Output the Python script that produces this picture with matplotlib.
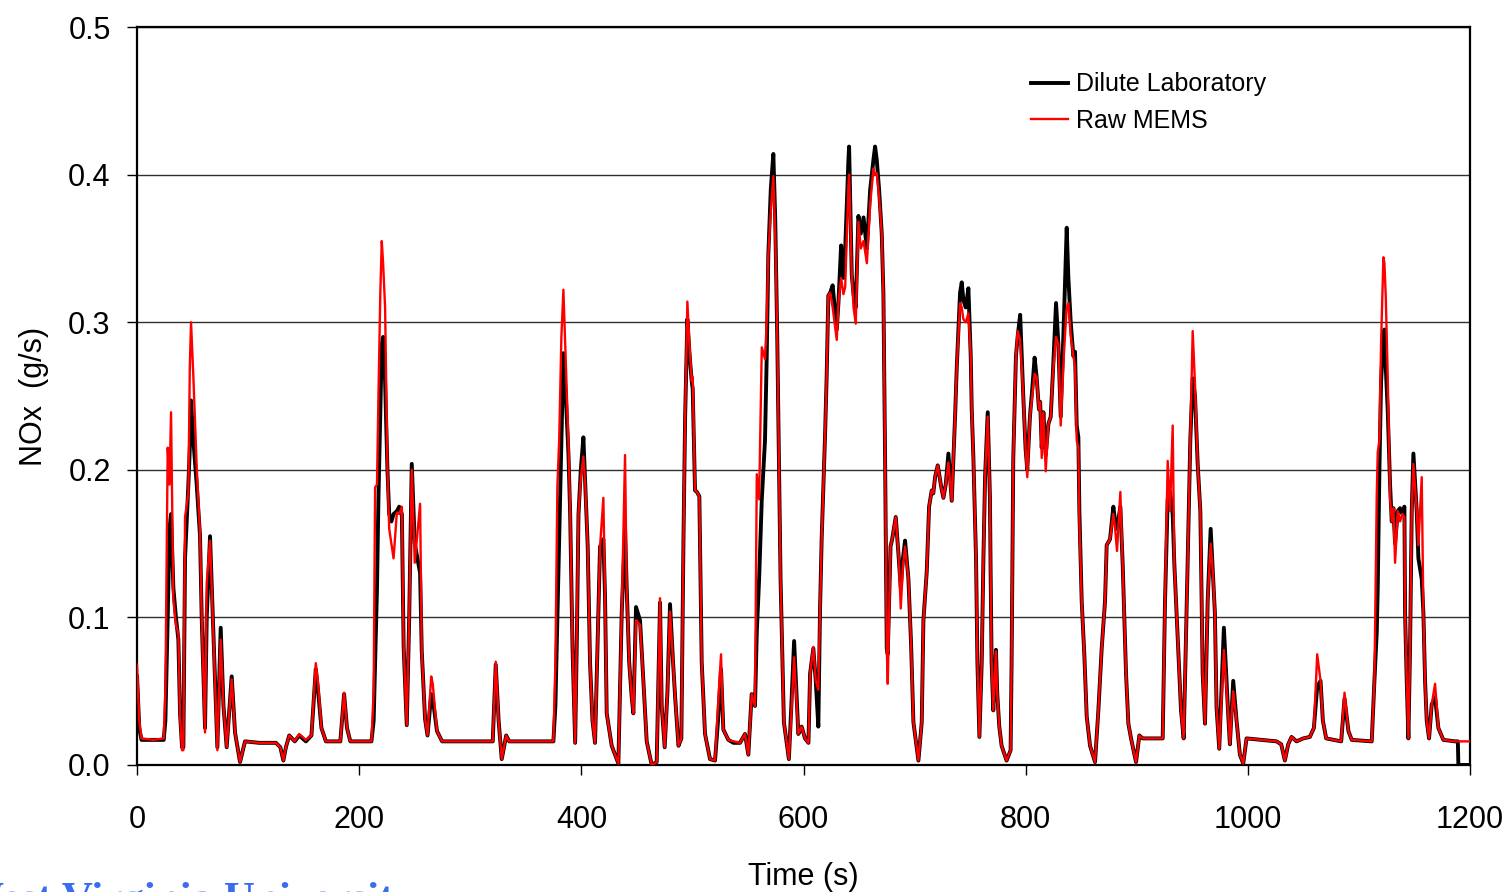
#! /usr/bin/env python3
# NOx mass rate, dilute laboratory vs raw MEMS
import matplotlib
matplotlib.use("Agg")
import matplotlib.pyplot as plt

plt.rcParams['font.family'] = ['Liberation Sans', 'DejaVu Sans']

# time (s) and values (g/s)
time = [
    0, 2, 4, 15, 24, 25.5, 27.6, 29.2, 30.6, 32.7, 35, 37.2, 38.7, 40.5, 41.7,
    43.2, 46.2, 47.5, 48.6, 50.7, 53.7, 56.7, 58.2, 61.2, 62.7, 65.7, 68.7,
    72.3, 75.3, 77.8, 80.7, 85.2, 88.2, 92.7, 97.2,
    110, 125, 129, 131.7, 134, 137, 142, 146, 152, 157, 160.9, 163, 166, 170,
    183, 186.4, 189, 192, 211, 213, 214.3, 216, 217.3, 219, 220.3, 221.5,
    223.3, 225.4, 227, 229, 230.9, 233.9, 236, 238.4, 240, 242.8, 245, 247.3,
    250, 254.8, 256.3, 259.3, 261.5, 264.8, 266.2, 270, 274.6,
    320.2, 322.9, 325.5, 328.3, 332.3, 335, 374.8, 376.6, 378.4, 380, 382,
    383.8, 386, 388.4, 389.9, 392, 394.4, 396, 397.4, 399.5, 401.8, 403.5,
    405.7, 407.8, 410, 412.3, 414.5, 416.8, 419.8, 421.3, 422.8, 427.3, 433.3,
    436.3, 439.3, 440.8, 443, 445.3, 446.8, 449.2, 452.8, 455.8, 458.8, 463.3,
    467.8, 470.8, 472.3, 475, 477.5, 479.8, 482.5, 484.4, 487.4, 490, 491.9,
    493.4, 495.4, 497.2, 499.3, 500.2, 502.3, 504, 506.2, 508.3, 511.3, 515.8,
    520.3, 523, 525.7, 527.8, 532.3, 537, 542.8, 547.3, 550.3, 553.3, 556.3,
    557.9, 560, 562.4, 565.3, 566.8, 568.3, 570.5, 572.8, 574.5, 576.3, 579.3,
    582.3, 586.8, 589, 591.5, 593.5, 595.3, 598.3, 601.3, 604.4, 605.9, 608.8,
    611, 613.3, 614.8, 616.3, 619.3, 620.8, 622.3, 624, 626.2, 629.9, 631.4,
    633.8, 635.9, 637.5, 640.4, 641, 643.4, 645, 647, 649.4, 651.5, 654, 657,
    660, 662.9, 664.4, 665.9, 668, 670.4, 671.9, 673.4, 674.9, 675.8, 678.3,
    679.8, 683, 685.8, 687.5, 689.5, 691.4, 694.4, 696.8, 698.9, 703.4, 706.4,
    707.9, 710.9, 713, 715.4, 716.8, 718.4, 720.8, 723.8, 725.9, 728, 730.4,
    733.4, 736.4, 737.9, 740.9, 742.4, 743.9, 746, 748.4, 750.5, 751.4, 752.9,
    755.3, 756.5, 758.3, 760.4, 761.9, 763.4, 765.8, 767.8, 768.4, 769.3,
    770.8, 773.2, 774.4, 776.2, 778.3, 782.8, 786.4, 787.3, 788.8, 791.2,
    792.7, 795, 797.8, 799.9, 801.4, 803.8, 805.9, 808, 809.8, 811.9, 813,
    814.4, 815.9, 818, 820.4, 822.5, 824.3, 827.3, 829.4, 831.5, 834.5, 836.9,
    838.4, 840.5, 842.9, 844.4, 845.9, 847.4, 848.3, 850.4, 852.8, 854.9,
    857.9, 862.4, 865.4, 868.4, 871.4, 872.9, 875.9, 878.9, 880.5, 882.2,
    885.2, 887.3, 888.8, 890.3, 892.4, 894.8, 899.3, 902.3, 905.3, 923.3,
    925.4, 927.8, 929.9, 932.3, 933.8, 936.8, 939.8, 942.2, 944.3, 946.4,
    948.2, 950.3, 952.4, 954.8, 957.2, 959.3, 961.4, 963.8, 966.5, 968.5,
    970.3, 971.8, 974.2, 978.4, 982.3, 983.8, 986.8, 989.8, 992.8, 995.8,
    998.8, 1025.8, 1030, 1033.3, 1036.3, 1039.3, 1043.8, 1049.8, 1055.8,
    1059.4, 1062.4, 1065.4, 1067.5, 1070.5, 1084, 1087, 1090.5, 1093.5,
    1111.5, 1113.9, 1116, 1116.9, 1118.4, 1119.9, 1122, 1122.9, 1124.1,
    1125.9, 1128, 1129.5, 1131, 1132.5, 1134.9, 1137, 1139, 1140.9, 1141.5,
    1143, 1144.5, 1146, 1147.5, 1149, 1152, 1153.5, 1156.5, 1158, 1159.5,
    1161, 1163.1, 1165.5, 1168.5, 1171.5, 1176, 1186.5, 1189, 1189.5, 1200,
]

dilute = [
    0.060, 0.025, 0.017, 0.017, 0.017, 0.03, 0.10, 0.16, 0.17, 0.12, 0.10,
    0.085, 0.035, 0.012, 0.012, 0.14, 0.19, 0.215, 0.247, 0.22, 0.19, 0.155,
    0.10, 0.025, 0.10, 0.155, 0.09, 0.012, 0.093, 0.04, 0.012, 0.06, 0.022,
    0.002, 0.016,
    0.015, 0.015, 0.012, 0.003, 0.012, 0.02, 0.016, 0.02, 0.016, 0.02, 0.065,
    0.05, 0.025, 0.016, 0.016, 0.048, 0.025, 0.016, 0.016, 0.03, 0.07, 0.12,
    0.18, 0.24, 0.285, 0.29, 0.26, 0.2, 0.17, 0.165, 0.17, 0.172, 0.175,
    0.17, 0.08, 0.027, 0.1, 0.204, 0.15, 0.13, 0.077, 0.031, 0.02, 0.048,
    0.045, 0.023, 0.016,
    0.016, 0.068, 0.03, 0.004, 0.02, 0.016, 0.016, 0.04, 0.10, 0.15, 0.22,
    0.279, 0.25, 0.21, 0.17, 0.08, 0.015, 0.09, 0.17, 0.20, 0.222, 0.19,
    0.148, 0.069, 0.03, 0.015, 0.08, 0.148, 0.153, 0.114, 0.035, 0.013,
    0.001, 0.103, 0.16, 0.12, 0.07, 0.046, 0.035, 0.107, 0.098, 0.057,
    0.016, 0.0, 0.002, 0.11, 0.04, 0.012, 0.05, 0.109, 0.07, 0.046, 0.013,
    0.018, 0.153, 0.236, 0.302, 0.28, 0.26, 0.255, 0.186, 0.185, 0.182,
    0.07, 0.021, 0.004, 0.003, 0.03, 0.065, 0.024, 0.017, 0.015, 0.015,
    0.021, 0.007, 0.048, 0.04, 0.09, 0.126, 0.18, 0.22, 0.275, 0.346, 0.39,
    0.414, 0.37, 0.291, 0.126, 0.029, 0.004, 0.04, 0.084, 0.05, 0.021,
    0.026, 0.018, 0.015, 0.062, 0.079, 0.057, 0.026, 0.104, 0.153, 0.222,
    0.263, 0.318, 0.32, 0.325, 0.295, 0.313, 0.352, 0.33, 0.35, 0.41, 0.419,
    0.332, 0.319, 0.31, 0.372, 0.36, 0.371, 0.35, 0.39, 0.41, 0.419, 0.41,
    0.39, 0.36, 0.319, 0.208, 0.079, 0.075, 0.148, 0.153, 0.168, 0.139,
    0.12, 0.14, 0.152, 0.126, 0.082, 0.029, 0.003, 0.029, 0.098, 0.131,
    0.175, 0.186, 0.184, 0.195, 0.203, 0.189, 0.181, 0.19, 0.211, 0.179,
    0.236, 0.269, 0.32, 0.327, 0.315, 0.31, 0.323, 0.277, 0.241, 0.208,
    0.139, 0.07, 0.019, 0.07, 0.139, 0.195, 0.239, 0.181, 0.131, 0.07,
    0.037, 0.078, 0.048, 0.026, 0.013, 0.003, 0.01, 0.07, 0.208, 0.277,
    0.29, 0.305, 0.25, 0.214, 0.20, 0.236, 0.255, 0.276, 0.263, 0.241,
    0.246, 0.215, 0.239, 0.21, 0.231, 0.236, 0.263, 0.313, 0.285, 0.236,
    0.305, 0.364, 0.33, 0.30, 0.277, 0.28, 0.23, 0.222, 0.172, 0.111, 0.074,
    0.033, 0.013, 0.002, 0.037, 0.079, 0.111, 0.149, 0.153, 0.175, 0.165,
    0.16, 0.175, 0.136, 0.099, 0.062, 0.028, 0.018, 0.002, 0.02, 0.018,
    0.018, 0.111, 0.18, 0.185, 0.17, 0.136, 0.087, 0.037, 0.018, 0.087,
    0.16, 0.221, 0.262, 0.25, 0.204, 0.172, 0.062, 0.028, 0.111, 0.16,
    0.13, 0.103, 0.039, 0.011, 0.093, 0.034, 0.014, 0.057, 0.03, 0.007,
    0.001, 0.018, 0.016, 0.014, 0.003, 0.014, 0.019, 0.016, 0.018, 0.019,
    0.025, 0.053, 0.057, 0.03, 0.018, 0.016, 0.045, 0.023, 0.017, 0.016,
    0.057, 0.09, 0.12, 0.2, 0.26, 0.29, 0.295, 0.27, 0.24, 0.19, 0.165,
    0.174, 0.15, 0.172, 0.174, 0.17, 0.175, 0.103, 0.057, 0.018, 0.08,
    0.172, 0.211, 0.172, 0.14, 0.126, 0.103, 0.057, 0.03, 0.018, 0.041,
    0.046, 0.025, 0.017, 0.016, 0.016, 0.0, 0.0,
]

mems = [
    0.068, 0.030, 0.018, 0.017, 0.018, 0.05, 0.215, 0.19, 0.239, 0.112,
    0.095, 0.089, 0.033, 0.01, 0.01, 0.168, 0.184, 0.27, 0.30, 0.263, 0.202,
    0.157, 0.10, 0.022, 0.123, 0.152, 0.089, 0.01, 0.085, 0.04, 0.012,
    0.058, 0.022, 0.002, 0.016,
    0.015, 0.015, 0.012, 0.003, 0.012, 0.02, 0.016, 0.021, 0.017, 0.02,
    0.069, 0.055, 0.025, 0.016, 0.016, 0.049, 0.025, 0.016, 0.016, 0.05,
    0.188, 0.19, 0.25, 0.32, 0.355, 0.34, 0.31, 0.20, 0.16, 0.15, 0.14,
    0.171, 0.17, 0.175, 0.08, 0.027, 0.1, 0.20, 0.137, 0.177, 0.077, 0.031,
    0.02, 0.06, 0.055, 0.023, 0.016,
    0.016, 0.07, 0.03, 0.004, 0.02, 0.016, 0.016, 0.069, 0.189, 0.22, 0.29,
    0.322, 0.272, 0.218, 0.171, 0.08, 0.015, 0.10, 0.171, 0.195, 0.209,
    0.19, 0.148, 0.069, 0.03, 0.015, 0.08, 0.148, 0.181, 0.114, 0.035,
    0.013, 0.001, 0.103, 0.21, 0.12, 0.07, 0.046, 0.035, 0.098, 0.095,
    0.057, 0.016, 0.0, 0.002, 0.113, 0.04, 0.012, 0.05, 0.104, 0.07, 0.046,
    0.013, 0.018, 0.153, 0.236, 0.314, 0.286, 0.26, 0.263, 0.186, 0.185,
    0.182, 0.07, 0.021, 0.004, 0.003, 0.04, 0.075, 0.024, 0.017, 0.016,
    0.015, 0.021, 0.007, 0.048, 0.04, 0.197, 0.18, 0.283, 0.275, 0.30,
    0.346, 0.375, 0.399, 0.36, 0.291, 0.126, 0.029, 0.004, 0.035, 0.073,
    0.045, 0.021, 0.026, 0.018, 0.015, 0.062, 0.08, 0.057, 0.051, 0.104,
    0.153, 0.222, 0.263, 0.318, 0.32, 0.31, 0.288, 0.313, 0.33, 0.319,
    0.324, 0.393, 0.40, 0.332, 0.31, 0.299, 0.368, 0.35, 0.355, 0.34, 0.38,
    0.404, 0.40, 0.401, 0.385, 0.36, 0.319, 0.208, 0.079, 0.055, 0.148,
    0.153, 0.168, 0.139, 0.106, 0.135, 0.148, 0.126, 0.082, 0.029, 0.003,
    0.029, 0.098, 0.131, 0.175, 0.186, 0.184, 0.195, 0.203, 0.189, 0.181,
    0.19, 0.205, 0.179, 0.236, 0.269, 0.313, 0.31, 0.302, 0.30, 0.306,
    0.277, 0.241, 0.208, 0.139, 0.07, 0.019, 0.07, 0.139, 0.195, 0.236,
    0.181, 0.131, 0.07, 0.037, 0.077, 0.048, 0.026, 0.013, 0.003, 0.01,
    0.07, 0.208, 0.277, 0.294, 0.288, 0.25, 0.214, 0.195, 0.236, 0.25,
    0.265, 0.263, 0.241, 0.246, 0.208, 0.239, 0.199, 0.231, 0.236, 0.263,
    0.29, 0.285, 0.23, 0.28, 0.31, 0.313, 0.291, 0.277, 0.27, 0.22, 0.215,
    0.165, 0.111, 0.074, 0.033, 0.013, 0.002, 0.037, 0.079, 0.111, 0.149,
    0.153, 0.17, 0.16, 0.145, 0.185, 0.136, 0.099, 0.062, 0.028, 0.018,
    0.002, 0.02, 0.018, 0.018, 0.111, 0.206, 0.172, 0.23, 0.136, 0.087,
    0.037, 0.018, 0.087, 0.16, 0.221, 0.294, 0.258, 0.204, 0.172, 0.062,
    0.028, 0.111, 0.15, 0.13, 0.103, 0.039, 0.011, 0.078, 0.034, 0.014,
    0.05, 0.03, 0.007, 0.001, 0.018, 0.016, 0.014, 0.003, 0.014, 0.019,
    0.016, 0.018, 0.019, 0.025, 0.075, 0.057, 0.03, 0.018, 0.016, 0.049,
    0.023, 0.017, 0.016, 0.057, 0.183, 0.212, 0.22, 0.286, 0.344, 0.34,
    0.318, 0.263, 0.181, 0.165, 0.174, 0.137, 0.172, 0.165, 0.17, 0.168,
    0.103, 0.057, 0.018, 0.08, 0.172, 0.204, 0.172, 0.149, 0.195, 0.103,
    0.057, 0.03, 0.018, 0.041, 0.055, 0.025, 0.017, 0.016, 0.016, 0.016,
    0.016,
]

xticks = [0, 200, 400, 600, 800, 1000, 1200]
yticks = [0.0, 0.1, 0.2, 0.3, 0.4, 0.5]

fig = plt.figure(figsize=(15.11, 8.92), dpi=100)
ax = fig.add_axes([0.0907, 0.1424, 0.8822, 0.8273])

ax.plot(time, dilute, color='black', linewidth=2.8, label='Dilute Laboratory',
        solid_joinstyle='round', zorder=3)
ax.plot(time, mems, color='#ff0000', linewidth=1.7, label='Raw MEMS',
        solid_joinstyle='round', zorder=4)

ax.set_xlim(0, 1200)
ax.set_ylim(0, 0.5)
ax.set_xticks(xticks)
ax.set_yticks(yticks)
ax.set_yticklabels(['%.1f' % v for v in yticks])
ax.yaxis.grid(True, color='#303030', linewidth=1.0)
ax.set_axisbelow(True)
ax.tick_params(axis='both', direction='out', length=7, width=1, labelsize=22)
ax.tick_params(axis='x', pad=22)
ax.tick_params(axis='y', pad=12)
for s in ax.spines.values():
    s.set_linewidth(1.6)

ax.set_xlabel('Time (s)', fontsize=22, labelpad=19)
ax.set_ylabel('NOx  (g/s)', fontsize=22, labelpad=14)

leg = ax.legend(loc='upper left', bbox_to_anchor=(0.663, 0.952), frameon=False,
                fontsize=18, handlelength=1.5, handletextpad=0.3,
                labelspacing=0.5, borderaxespad=0)

fig.text(-0.026, -0.021, 'West Virginia University', fontsize=31,
         fontweight='bold', color='#3b6cf0', family='Liberation Serif')

fig.savefig('out.png', dpi=100)
